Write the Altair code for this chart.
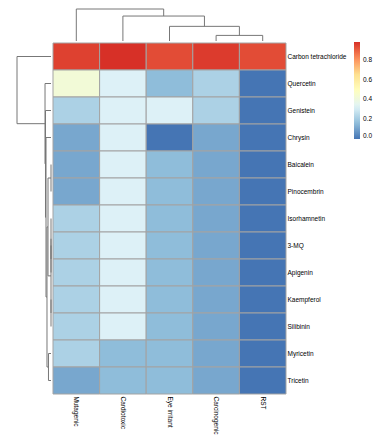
import altair as alt
import pandas as pd

compounds = ["Carbon tetrachloride", "Quercetin", "Genistein", "Chrysin", "Baicalein",
             "Pinocembrin", "Isorhamnetin", "3-MQ", "Apigenin", "Kaempferol",
             "Silibinin", "Myricetin", "Tricetin"]
endpoints = ["Mutagenic", "Cardiotoxic", "Eye irritant", "Carcinogenic", "RST"]

mutagenic    = [0.95, 0.42, 0.22, 0.11, 0.11, 0.11, 0.22, 0.22, 0.22, 0.22, 0.22, 0.22, 0.11]
cardiotoxic  = [0.98, 0.32, 0.32, 0.32, 0.32, 0.32, 0.32, 0.32, 0.32, 0.32, 0.32, 0.16, 0.16]
eye_irritant = [0.93, 0.16, 0.32, 0.00, 0.16, 0.16, 0.16, 0.16, 0.16, 0.16, 0.16, 0.16, 0.16]
carcinogenic = [0.96, 0.22, 0.22, 0.11, 0.11, 0.11, 0.11, 0.11, 0.11, 0.11, 0.11, 0.11, 0.11]
rst          = [0.93, 0.00, 0.00, 0.00, 0.00, 0.00, 0.00, 0.00, 0.00, 0.00, 0.00, 0.00, 0.00]

legend_ticks = [0, 0.2, 0.4, 0.6, 0.8]
palette = ["#4575B4", "#91BFDB", "#E0F3F8", "#FFFFBF", "#FEE090", "#FC8D59", "#D73027"]

# dendrogram merges: (child_a, child_b, height); ids >= n refer to earlier merges
col_merges = [(3, 4, 0.175), (2, 5, 0.458), (1, 6, 0.78), (0, 7, 1.0)]
row_merges = [(4, 5, 0.0), (7, 8, 0.0), (6, 14, 0.0), (9, 10, 0.0), (15, 16, 0.0),
              (13, 17, 0.088), (11, 12, 0.074), (18, 19, 0.118), (3, 20, 0.147),
              (2, 21, 0.162), (1, 22, 0.176), (0, 23, 1.0)]

FONT = "Liberation Sans"
LINE = "#777777"


def dendro_segments(merges, n):
    pos = {i: float(i) for i in range(n)}
    hgt = {i: 0.0 for i in range(n)}
    segs = []
    for k, (a, b, h) in enumerate(merges):
        segs.append(dict(p1=pos[a], p2=pos[a], h1=hgt[a], h2=h))
        segs.append(dict(p1=pos[b], p2=pos[b], h1=hgt[b], h2=h))
        segs.append(dict(p1=pos[a], p2=pos[b], h1=h, h2=h))
        pos[n + k] = (pos[a] + pos[b]) / 2
        hgt[n + k] = h
    return pd.DataFrame(segs)


cols = [mutagenic, cardiotoxic, eye_irritant, carcinogenic, rst]
rows = []
for e, vals in zip(endpoints, cols):
    for c, v in zip(compounds, vals):
        rows.append(dict(compound=c, endpoint=e, value=v))
heat_df = pd.DataFrame(rows)

vmax = heat_df["value"].max()
stops = [vmax * i / (len(palette) - 1) for i in range(len(palette))]

HM_W, HM_H = 233, 351
DEN_TOP_H = 32
DEN_LEFT_W = 42

heatmap = alt.Chart(heat_df).mark_rect(stroke="#a3a3a3", strokeWidth=1).encode(
    x=alt.X("endpoint:N", sort=endpoints,
            scale=alt.Scale(paddingInner=0, paddingOuter=0),
            axis=alt.Axis(orient="bottom", labelAngle=90, ticks=False, tickSize=0,
                          domain=False, title=None, labelFontSize=6.5, labelFont=FONT,
                          labelColor="black", labelPadding=2)),
    y=alt.Y("compound:N", sort=compounds,
            scale=alt.Scale(paddingInner=0, paddingOuter=0),
            axis=alt.Axis(orient="right", ticks=False, tickSize=0, domain=False,
                          title=None, labelFontSize=6.5, labelFont=FONT,
                          labelColor="black", labelPadding=1)),
    color=alt.Color("value:Q",
                    scale=alt.Scale(domain=stops, range=palette, interpolate="rgb"),
                    legend=alt.Legend(orient="none", legendX=345, legendY=33,
                                      direction="vertical", title=None,
                                      gradientLength=97, gradientThickness=6,
                                      gradientStrokeWidth=0, values=legend_ticks,
                                      labelFontSize=6.5, labelFont=FONT,
                                      labelColor="black", labelOffset=3)),
).properties(width=HM_W, height=HM_H)

top_df = dendro_segments(col_merges, len(endpoints))
top_dendro = alt.Chart(top_df).mark_rule(color=LINE, strokeWidth=1).encode(
    x=alt.X("p1:Q", scale=alt.Scale(domain=[-0.5, len(endpoints) - 0.5], nice=False, zero=False), axis=None),
    x2="p2",
    y=alt.Y("h1:Q", scale=alt.Scale(domain=[0, 1], nice=False), axis=None),
    y2="h2",
).properties(width=HM_W, height=DEN_TOP_H)

left_df = dendro_segments(row_merges, len(compounds))
left_dendro = alt.Chart(left_df).mark_rule(color=LINE, strokeWidth=1).encode(
    y=alt.Y("p1:Q", scale=alt.Scale(domain=[-0.5, len(compounds) - 0.5], reverse=True,
                                     nice=False, zero=False), axis=None),
    y2="p2",
    x=alt.X("h1:Q", scale=alt.Scale(domain=[0, 42 / 34], reverse=True, nice=False), axis=None),
    x2="h2",
).properties(width=DEN_LEFT_W, height=HM_H)

spacer = alt.Chart(pd.DataFrame({"v": [0]})).mark_point(opacity=0).encode(
    x=alt.X("v:Q", axis=None), y=alt.Y("v:Q", axis=None)
).properties(width=DEN_LEFT_W, height=DEN_TOP_H)

left_col = alt.vconcat(spacer, left_dendro, spacing=0)
right_col = alt.vconcat(top_dendro, heatmap, spacing=0)

chart = alt.hconcat(left_col, right_col, spacing=0).properties(
    padding=0
).configure_view(stroke="transparent").configure_concat(spacing=0)

chart.save("out.html", embed_options={"renderer": "svg", "actions": False})
